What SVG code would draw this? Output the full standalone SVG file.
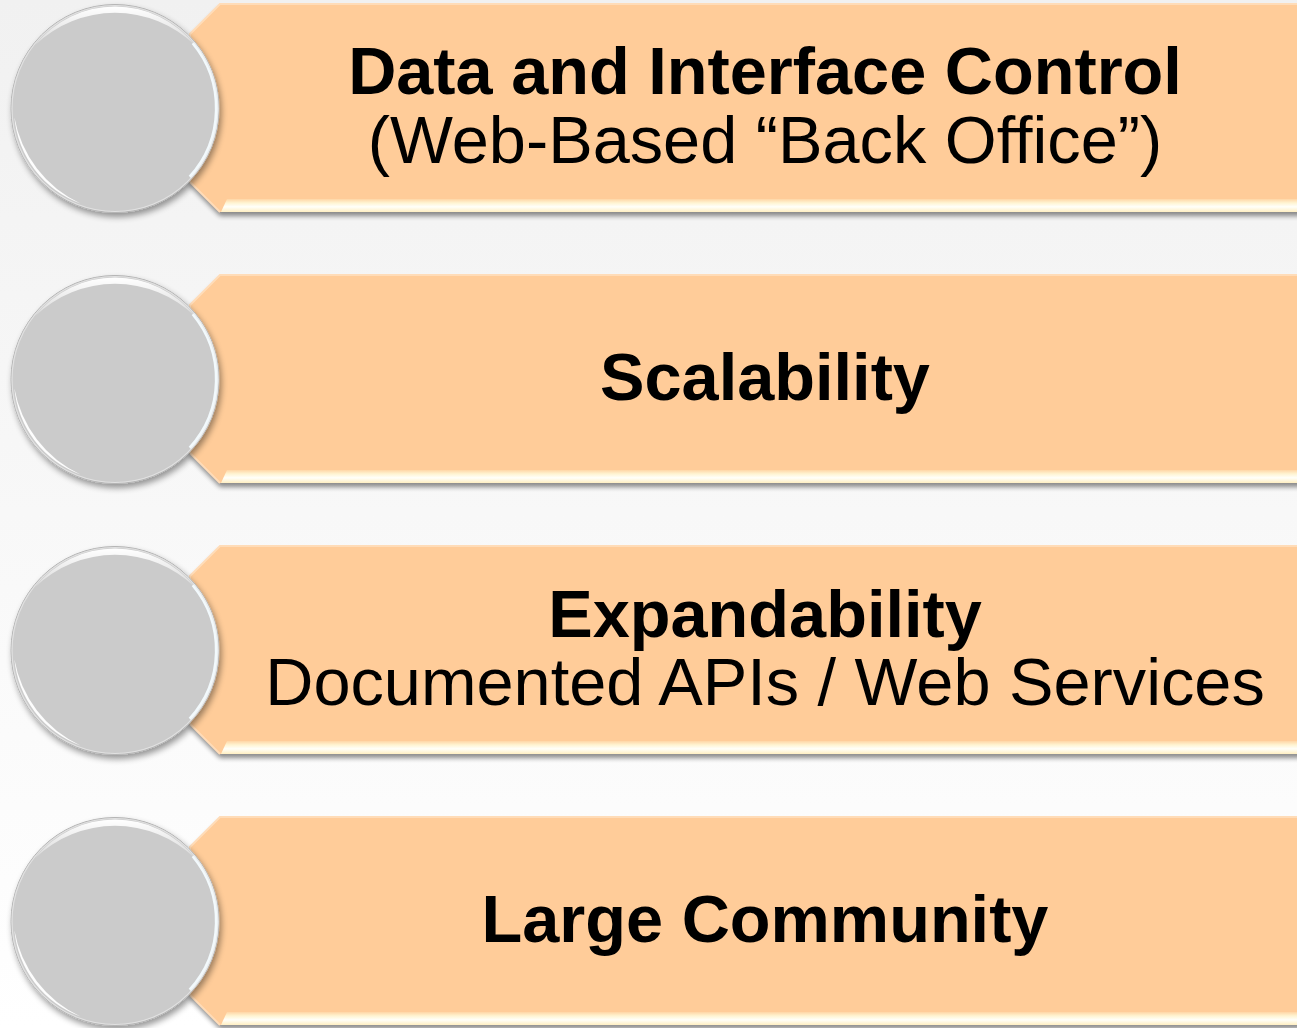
<svg xmlns="http://www.w3.org/2000/svg" xmlns:xlink="http://www.w3.org/1999/xlink" width="1297" height="1028" viewBox="0 0 1297 1028">
  <style>
    .t { font-family: "Liberation Sans", Arial, sans-serif; font-size: 66.7px; fill: #000; text-anchor: middle; }
    .b { font-weight: bold; }
  </style>
  <defs>
    <linearGradient id="bg" x1="0" y1="0" x2="0" y2="1">
      <stop offset="0" stop-color="#f1f1f1"/>
      <stop offset="1" stop-color="#ffffff"/>
    </linearGradient>
    <linearGradient id="hl" x1="0" y1="0" x2="0" y2="1">
      <stop offset="0" stop-color="#ffd6a6"/>
      <stop offset="0.3" stop-color="#fff4d2"/>
      <stop offset="0.6" stop-color="#fffffa"/>
      <stop offset="1" stop-color="#ffefc2"/>
    </linearGradient>
    <linearGradient id="topHl" x1="0" y1="0" x2="0" y2="1">
      <stop offset="0" stop-color="#ffffff" stop-opacity="1"/>
      <stop offset="1" stop-color="#ffffff" stop-opacity="0.3"/>
    </linearGradient>
    <filter id="bandShadow" x="-5%" y="-10%" width="110%" height="125%">
      <feGaussianBlur in="SourceAlpha" stdDeviation="2.5"/>
      <feOffset dx="0" dy="4" result="o"/>
      <feComponentTransfer><feFuncA type="linear" slope="0.45"/></feComponentTransfer>
      <feMerge><feMergeNode/><feMergeNode in="SourceGraphic"/></feMerge>
    </filter>
    <filter id="circShadow" x="-20%" y="-20%" width="140%" height="140%">
      <feGaussianBlur in="SourceAlpha" stdDeviation="3"/>
      <feOffset dx="2" dy="4" result="o"/>
      <feComponentTransfer><feFuncA type="linear" slope="0.4"/></feComponentTransfer>
      <feMerge><feMergeNode/><feMergeNode in="SourceGraphic"/></feMerge>
    </filter>
    <g id="band">
      <path d="M190 34 L220 4 L1310 4 L1310 212 L220 212 L190 182 Z" fill="#ffcc99" filter="url(#bandShadow)"/>
      <path d="M190 182 L190 34 L220 4 L1310 4" fill="none" stroke="#ffdcb8" stroke-width="2"/>
      <path d="M190 182 L220 212" fill="none" stroke="#ffdcb8" stroke-width="2"/>
      <path d="M227 199 L1310 199 L1310 212 L221 212 Z" fill="url(#hl)"/>
    </g>
    <g id="knob">
      <circle cx="115" cy="108.5" r="104" fill="#cbcbcb" stroke="#b4b4b4" stroke-width="1" filter="url(#circShadow)"/>
      <path d="M35 45.2 A102 102 0 0 1 195 45.2 A115 115 0 0 0 35 45.2 Z" fill="url(#topHl)"/>
      <path d="M14.4 117.3 A101 101 0 0 0 80.5 203.4 A118 118 0 0 1 14.4 117.3 Z" fill="#ffffff" opacity="0.95"/>
      <path d="M193 43 A102 102 0 0 1 190 177" fill="none" stroke="#f2f9fc" stroke-width="3.5"/>
      <circle cx="115" cy="108.5" r="103" fill="none" stroke="#e6e6e6" stroke-width="1.2" opacity="0.8"/>
    </g>
  </defs>
  <rect x="0" y="0" width="1297" height="1028" fill="url(#bg)"/>
  <g id="connectors"/>
  <g id="node1">
    <use href="#band"/>
    <use href="#knob"/>
    <text class="t b" x="765" y="94">Data and Interface Control</text>
    <text class="t" x="765" y="163">(Web-Based “Back Office”)</text>
  </g>
  <g id="node2" transform="translate(0,271)">
    <use href="#band"/>
    <use href="#knob"/>
    <text class="t b" x="765" y="129">Scalability</text>
  </g>
  <g id="node3" transform="translate(0,542)">
    <use href="#band"/>
    <use href="#knob"/>
    <text class="t b" x="765" y="95">Expandability</text>
    <text class="t" x="765" y="163">Documented APIs / Web Services</text>
  </g>
  <g id="node4" transform="translate(0,813)">
    <use href="#band"/>
    <use href="#knob"/>
    <text class="t b" x="765" y="129">Large Community</text>
  </g>
</svg>
